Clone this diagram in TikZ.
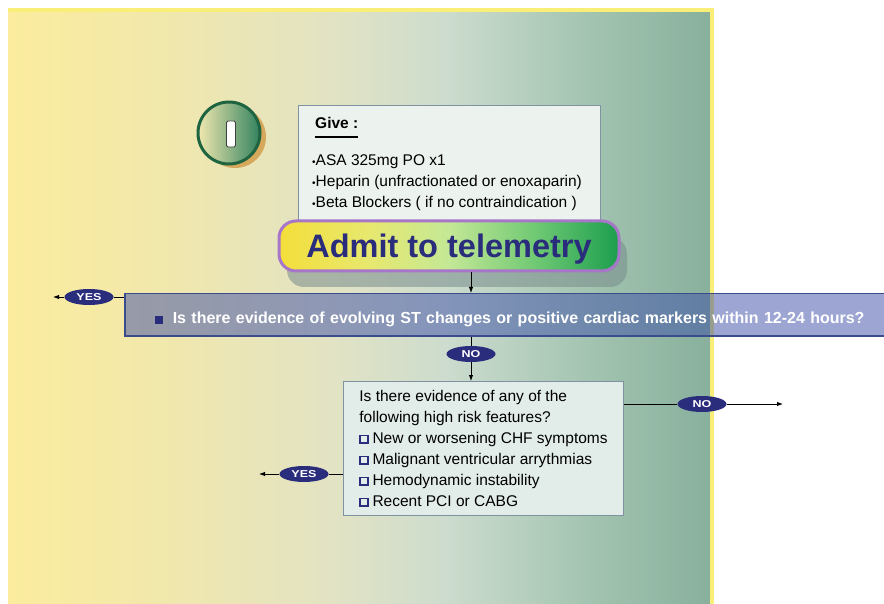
\documentclass[tikz,border=0pt]{standalone}
\usepackage{fontspec}
\setmainfont{Liberation Sans}
\newfontfamily\widefont[FakeStretch=1.25]{Liberation Sans}
\usetikzlibrary{positioning,shapes,shadows,arrows.meta}

\definecolor{navy}{RGB}{42,44,124}
\definecolor{pnlA}{RGB}{251,236,158}
\definecolor{pnlB}{RGB}{242,232,170}
\definecolor{pnlC}{RGB}{226,227,196}
\definecolor{pnlD}{RGB}{205,220,206}
\definecolor{pnlE}{RGB}{160,194,175}
\definecolor{pnlF}{RGB}{136,176,156}
\definecolor{edgeyellow}{RGB}{248,238,120}
\definecolor{boxline}{RGB}{128,146,160}
\definecolor{givefill}{RGB}{236,242,238}
\definecolor{riskfill}{RGB}{226,236,232}
\definecolor{admA}{RGB}{244,222,58}
\definecolor{admB}{RGB}{232,232,110}
\definecolor{admC}{RGB}{196,232,150}
\definecolor{admD}{RGB}{110,200,115}
\definecolor{admE}{RGB}{28,158,78}
\definecolor{admline}{RGB}{168,118,200}
\definecolor{shadowgray}{RGB}{120,140,140}
\definecolor{barblue}{RGB}{60,78,168}
\definecolor{barline}{RGB}{58,76,140}
\definecolor{badgeline}{RGB}{30,100,64}
\definecolor{badgeA}{RGB}{240,232,175}
\definecolor{badgeB}{RGB}{50,130,95}
\definecolor{badgeshadow}{RGB}{214,168,92}

\pgfdeclarehorizontalshading{panelshade}{100bp}{color(0bp)=(pnlA); color(25bp)=(pnlA); color(35bp)=(pnlB); color(48bp)=(pnlC); color(56bp)=(pnlD); color(67bp)=(pnlE); color(75bp)=(pnlF); color(100bp)=(pnlF)}
\pgfdeclarehorizontalshading{admitshade}{100bp}{color(0bp)=(admA); color(25bp)=(admA); color(38bp)=(admB); color(50bp)=(admC); color(63bp)=(admD); color(75bp)=(admE); color(100bp)=(admE)}

\newcommand{\chkbox}{{\color{navy}\setlength{\fboxrule}{1.8pt}\setlength{\fboxsep}{0pt}\raisebox{1.8pt}{\fbox{\rule{0pt}{5.5pt}\hspace{5.5pt}}}}\hspace{4pt}}

\begin{document}
\begin{tikzpicture}[x=1pt, y=-1pt,
    yesno/.style={ellipse, fill=navy, text=white, inner sep=0pt,
                  minimum width=49, minimum height=16,
                  font=\widefont\bfseries\fontsize{10}{10}\selectfont},
    arr/.style={-{Latex[length=6pt,width=4.5pt]}, line width=.9pt},
    link/.style={line width=.9pt},
    body/.style={font=\fontsize{15.5}{21}\selectfont, inner sep=0pt, align=left}]
  \useasboundingbox (0,0) rectangle (884,604);
  % background panel
  \shade[shading=panelshade] (8,10) rectangle (712,604);
  \draw[edgeyellow, line width=4pt] (8,10) -- (712,10) -- (712,604);

  % badge
  \node[circle, minimum size=62, left color=badgeA, right color=badgeB,
        draw=badgeline, line width=3pt,
        drop shadow={shadow xshift=6pt, shadow yshift=-4pt, fill=badgeshadow, opacity=1}] (badge) at (229,133) {};
  \node[rectangle, rounded corners=1.5pt, fill=white, draw=black!75, line width=.8pt,
        minimum width=9, minimum height=26, inner sep=0pt] (numeral) at (231,134) {};

  % give box
  \node[draw=boxline, fill=givefill, line width=.8pt, minimum width=302, minimum height=124,
        anchor=north west] (give) at (298,105) {};
  \node[anchor=base west, inner sep=0pt, font=\bfseries\fontsize{15.5}{18}\selectfont] (givehd) at (315,129) {Give :};
  \draw[line width=1.5pt] ([yshift=-8pt]givehd.base west) -- ([yshift=-8pt]givehd.base east);
  \node[body, anchor=north west] (givelist) at (312,154)
       {{\normalsize•}ASA 325mg PO x1\\{\normalsize•}Heparin (unfractionated or enoxaparin)\\{\normalsize•}Beta Blockers ( if no contraindication )};

  % admit
  \node[rounded corners=17pt, shading=admitshade, draw=admline, line width=3pt,
        minimum width=340, minimum height=50, text=navy, inner sep=0pt,
        text height=23.3pt, text depth=0pt,
        font=\bfseries\fontsize{32.5}{36}\selectfont,
        drop shadow={shadow xshift=8pt, shadow yshift=-16pt, fill=shadowgray, opacity=.55}]
       (admit) at (449,246) {Admit to telemetry};

  % ST question
  \node[anchor=north west, fill=barblue, fill opacity=.5, text opacity=1, draw=barline,
        line width=1.5pt, minimum width=790, minimum height=42, inner xsep=30,
        text width=730, text height=18.4pt, text depth=0pt, text=white, align=left,
        font=\bfseries\fontsize{16}{18}\selectfont] (stq) at (124,293)
       {\textcolor{navy}{\rule{8pt}{8pt}}\hspace{10pt}Is there evidence of evolving ST changes or positive cardiac markers within 12-24 hours?};

  \node[yesno] (noA) at (471,354) {NO};

  % high risk question
  \node[body, draw=boxline, fill=riskfill, line width=.8pt, inner xsep=16, inner ysep=9,
        anchor=north west] (riskq) at (343,381)
       {Is there evidence of any of the\\following high risk features?\\
        \chkbox New or worsening CHF symptoms\\\chkbox Malignant ventricular arrythmias\\
        \chkbox Hemodynamic instability\\\chkbox Recent PCI or CABG};

  \node[yesno] (noB) at (702,404) {NO};
  \node[yesno] (yesA) at (89,297) {YES};
  \node[yesno] (yesB) at (304,474) {YES};
  \coordinate (yesAend) at (53,297);
  \coordinate (noBend) at (783,404);
  \coordinate (yesBend) at (259,474);

  % connectors
  \draw[arr] (admit.south -| noA) -- (stq.north -| noA);
  \draw[link] (stq.south -| noA) -- (noA);
  \draw[arr] (noA) -- (riskq.north -| noA);
  \draw[link] (riskq.east |- noB) -- (noB);
  \draw[arr] (noB) -- (noBend);
  \draw[link] (riskq.west |- yesB) -- (yesB);
  \draw[arr] (yesB) -- (yesBend);
  \draw[link] (stq.west |- yesA) -- (yesA);
  \draw[arr] (yesA) -- (yesAend);
\end{tikzpicture}
\end{document}
